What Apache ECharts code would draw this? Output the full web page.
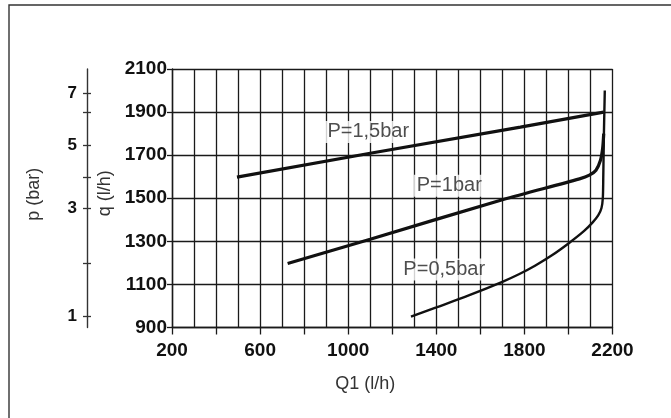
<!DOCTYPE html>
<html><head><meta charset="utf-8">
<script src="https://cdn.jsdelivr.net/npm/echarts@6/dist/echarts.min.js"></script>
<style>html,body{margin:0;padding:0;background:#fff}#c{width:671px;height:418px}</style>
</head><body><div id="c"></div>
<script>
// ---- data ----
const xLabelValues = [200, 600, 1000, 1400, 1800, 2200];
const qTicks = [900, 1100, 1300, 1500, 1700, 1900, 2100];
const pTicks = [1, 2, 3, 4, 5, 6, 7];
const pTickOnQ = [952, 1197, 1455, 1596, 1748, 1899, 1987];
const pLabelled = [1, 3, 5, 7];
const curveNames = ['P=1,5bar', 'P=1bar', 'P=0,5bar'];
const p15 = [[495, 1598], [1100, 1709], [1782, 1830], [2160, 1900]];
const p10 = [[725, 1197], [1100, 1310], [1700, 1493], [2050, 1590], [2095, 1607], [2125, 1630], [2145, 1675], [2155, 1730], [2160, 1800]];
const p05 = [[1285, 950], [1400, 993], [1550, 1050], [1700, 1112], [1775, 1147], [1850, 1188], [1925, 1235], [2000, 1290], [2070, 1347], [2110, 1388], [2135, 1420], [2150, 1455], [2156, 1500], [2158, 1590], [2161, 1800], [2163, 1900], [2165, 2000]];
const labelAnchors = [[1091, 1808], [1459, 1558], [1436, 1169]];

const ink = '#1a1a1a';
const tickFont = {color: '#111', fontFamily: 'Liberation Sans, Arial, sans-serif', fontSize: 19, fontWeight: 'bold'};
const nameFont = {color: '#333', fontFamily: 'Liberation Sans, Arial, sans-serif', fontSize: 18};

const pLabelPos = pLabelled.map(p => pTickOnQ[pTicks.indexOf(p)]);

const chart = echarts.init(document.getElementById('c'), null, {renderer: 'canvas'});
chart.setOption({
  backgroundColor: '#fff',
  animation: false,
  graphic: [{type: 'polyline', shape: {points: [[9, 418], [9, 5], [671, 5]]},
    style: {stroke: '#333', lineWidth: 1.4, fill: null}, silent: true}],
  grid: {left: 172, right: 58.5, top: 69, bottom: 90.5},
  xAxis: {
    type: 'value', min: 200, max: 2200, interval: 200,
    name: 'Q1 (l/h)', nameLocation: 'middle', nameGap: 48,
    nameTextStyle: Object.assign({}, nameFont, {padding: [0, 54, 0, 0]}),
    axisLine: {show: true, lineStyle: {color: ink, width: 1.4}},
    axisTick: {show: true, length: 7, lineStyle: {color: ink, width: 1.3}},
    axisLabel: Object.assign({}, tickFont, {margin: 14,
      formatter: v => xLabelValues.indexOf(v) >= 0 ? String(v) : ''}),
    splitLine: {show: true, lineStyle: {color: ink, width: 1.3}},
    minorTick: {show: false, splitNumber: 2},
    minorSplitLine: {show: true, lineStyle: {color: ink, width: 1.3}}
  },
  yAxis: [{
    type: 'value', min: 900, max: 2100, interval: 200, position: 'left',
    name: 'q (l/h)', nameLocation: 'middle', nameGap: 58, nameRotate: 90,
    nameTextStyle: Object.assign({}, nameFont, {padding: [0, 0, 0, 10]}),
    axisLine: {show: true, lineStyle: {color: ink, width: 1.4}},
    axisTick: {show: true, length: 5, lineStyle: {color: ink, width: 1.3}},
    axisLabel: Object.assign({}, tickFont, {margin: 5,
      formatter: v => qTicks.indexOf(v) >= 0 ? String(v) : ''}),
    splitLine: {show: true, lineStyle: {color: ink, width: 1.3}}
  }, {
    type: 'value', min: 900, max: 2100, position: 'left', offset: 85,
    name: 'p (bar)', nameLocation: 'middle', nameGap: 44, nameRotate: 90,
    nameTextStyle: Object.assign({}, nameFont, {padding: [0, 0, 0, 8]}),
    axisLine: {show: true, lineStyle: {color: '#333', width: 1.4}},
    axisTick: {show: true, length: 4, customValues: pTickOnQ, lineStyle: {color: '#333', width: 1.3}},
    axisLabel: Object.assign({}, tickFont, {fontSize: 17, margin: 10, customValues: pLabelPos,
      formatter: v => {const i = pTickOnQ.indexOf(v); return i >= 0 ? String(pTicks[i]) : '';}}),
    splitLine: {show: false}
  }, {
    type: 'value', min: 900, max: 2100, position: 'left', offset: 85,
    axisLine: {show: false},
    axisTick: {show: true, inside: true, length: 4, customValues: pTickOnQ, lineStyle: {color: '#333', width: 1.3}},
    axisLabel: {show: false},
    splitLine: {show: false}
  }],
  series: [
    {name: curveNames[0], type: 'line', data: p15, showSymbol: false, symbol: 'none',
      lineStyle: {color: '#111', width: 3.2}, z: 3},
    {name: curveNames[1], type: 'line', data: p10, showSymbol: false, symbol: 'none', smooth: 0.3,
      lineStyle: {color: '#111', width: 3.2}, z: 3},
    {name: curveNames[2], type: 'line', data: p05, showSymbol: false, symbol: 'none', smooth: 0.3,
      lineStyle: {color: '#111', width: 2.4}, z: 3},
    {name: 'labels', type: 'scatter', symbol: 'circle', symbolSize: 1, silent: true, z: 4,
      itemStyle: {color: 'rgba(0,0,0,0)'},
      data: labelAnchors.map((c, i) => ({value: c, name: curveNames[i]})),
      label: {show: true, position: 'inside', formatter: p => p.name, color: '#222',
        fontFamily: 'Liberation Sans, Arial, sans-serif', fontSize: 20,
        backgroundColor: '#fff', padding: [1, 3]}}
  ]
});
</script></body></html>
